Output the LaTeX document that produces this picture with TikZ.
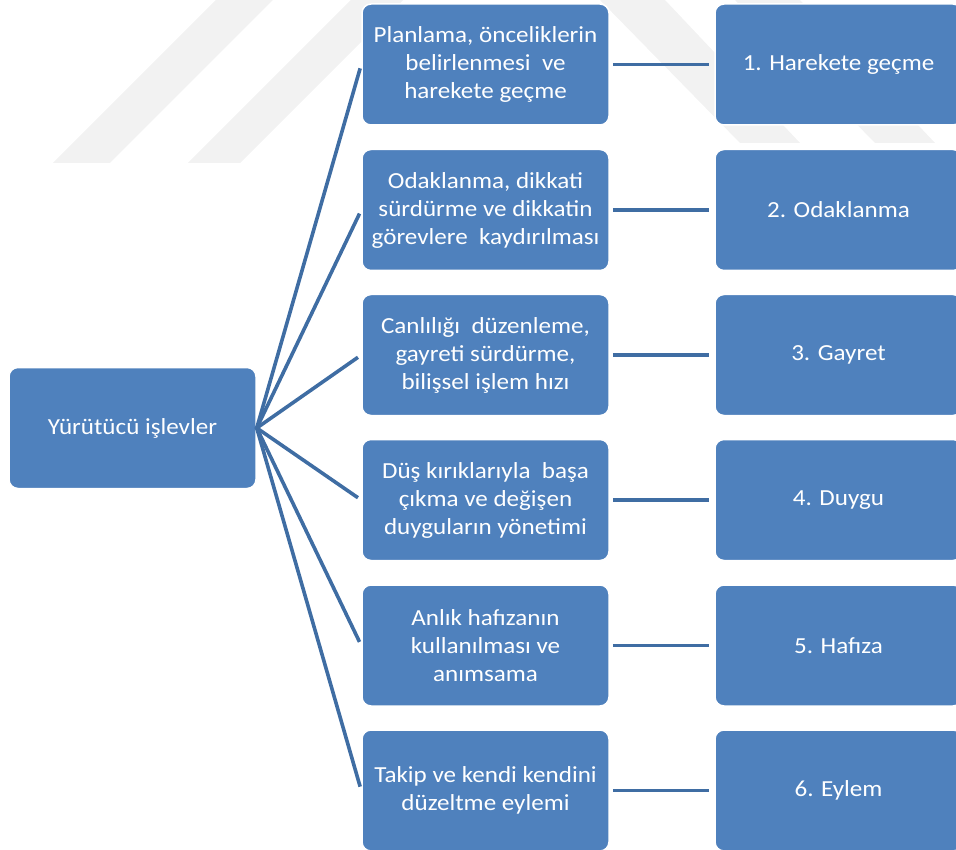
\documentclass[tikz,border=0pt]{standalone}
\usepackage{fontspec}
\setmainfont{Carlito}[FakeStretch=1.09]
\definecolor{boxblue}{HTML}{4F81BD}
\definecolor{lineblue}{HTML}{3F6DA3}
\definecolor{wm}{HTML}{F2F2F2}
\begin{document}
\begin{tikzpicture}[x=1pt,y=-1pt,
  box/.style={rectangle, rounded corners=9pt, fill=boxblue, draw=white, line width=1.5pt,
    minimum width=247pt, minimum height=121pt, inner sep=0pt, align=center,
    text=white, font=\fontsize{23}{28}\selectfont},
  conn/.style={draw=lineblue, line width=3.6pt}]
\useasboundingbox (0,0) rectangle (956,850);
\clip (0,0) rectangle (956,850);
% faint watermark
\fill[wm] (53,163) -- (110,163) -- (273,0) -- (216,0) -- cycle;
\fill[wm] (188,163) -- (240,163) -- (403,0) -- (351,0) -- cycle;
\fill[wm] (600,0) -- (665,0) -- (800,143) -- (740,143) -- cycle;
\fill[wm] (735,0) -- (800,0) -- (935,143) -- (875,143) -- cycle;
% nodes
\node[box] (root) at (132.5,428) {Yürütücü işlevler};
\node[box] (m1) at (485.5,64.5) {Planlama, önceliklerin\\belirlenmesi~ ve\\harekete geçme};
\node[box] (m2) at (485.5,210) {Odaklanma, dikkati\\sürdürme ve dikkatin\\görevlere~ kaydırılması};
\node[box] (m3) at (485.5,355) {Canlılığı~ düzenleme,\\gayreti sürdürme,\\bilişsel işlem hızı};
\node[box] (m4) at (485.5,500) {Düş kırıklarıyla~ başa\\çıkma ve değişen\\duyguların yönetimi};
\node[box] (m5) at (485.5,645.5) {Anlık hafızanın\\kullanılması ve\\anımsama};
\node[box] (m6) at (485.5,790.5) {Takip ve kendi kendini\\düzeltme eylemi};
\node[box] (r1) at (838.5,64.5) {1. Harekete geçme};
\node[box] (r2) at (838.5,210) {2. Odaklanma};
\node[box] (r3) at (838.5,355) {3. Gayret};
\node[box] (r4) at (838.5,500) {4. Duygu};
\node[box] (r5) at (838.5,645.5) {5. Hafıza};
\node[box] (r6) at (838.5,790.5) {6. Eylem};
% connectors
\foreach \i in {1,...,6}{
  \draw[conn, shorten >=4pt, shorten <=-1pt] (root.east) -- (m\i.west);
  \draw[conn, shorten >=5pt, shorten <=3pt] (m\i.east) -- (r\i.west);
}
\end{tikzpicture}
\end{document}
